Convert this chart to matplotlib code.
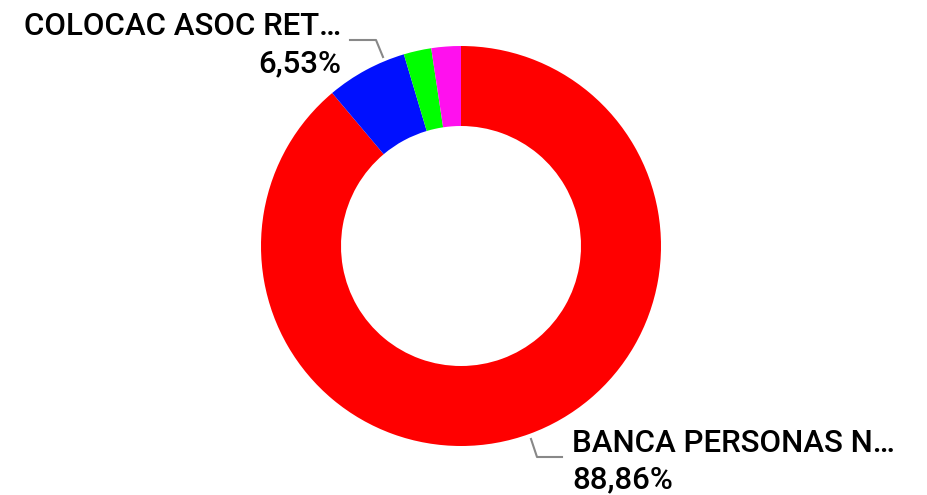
import matplotlib
matplotlib.use("Agg")
import matplotlib.pyplot as plt

categories = ["BANCA PERSONAS N\u2026", "COLOCAC ASOC RET\u2026", "OTRO 1", "OTRO 2"]
values = [88.86, 6.53, 2.23, 2.38]
colors = ["#FF0000", "#0010FF", "#00FF00", "#FF10EE"]
pct_labels = ["88,86%", "6,53%"]

W, H = 927, 495
fig = plt.figure(figsize=(W / 100, H / 100), dpi=100)
ax = fig.add_axes([0, 0, 1, 1])

def Y(y):
    return H - y

cx, cy, R = 461, 246, 200
ax.pie(values, colors=colors, startangle=90, counterclock=False,
       center=(cx, Y(cy)), radius=R,
       wedgeprops=dict(width=80, linewidth=0), frame=True)
ax.set_xlim(0, W)
ax.set_ylim(0, H)
ax.set_aspect("equal")
ax.axis("off")

font = dict(family="Roboto", fontsize=22.5, color="black", weight="medium")
# top-left label
ax.text(341, Y(35), categories[1], ha="right", va="baseline", **font)
ax.text(341, Y(72), pct_labels[1], ha="right", va="baseline", **font)
ax.plot([350, 376, 383], [Y(40), Y(40), Y(57)], color="#888888", lw=1.5)
# bottom-right label
ax.text(572, Y(452), categories[0], ha="left", va="baseline", **font)
ax.text(572, Y(488), pct_labels[0], ha="left", va="baseline", **font)
ax.plot([531, 537, 562], [Y(439), Y(457), Y(457)], color="#888888", lw=1.5)

fig.savefig("out.png", dpi=100)
